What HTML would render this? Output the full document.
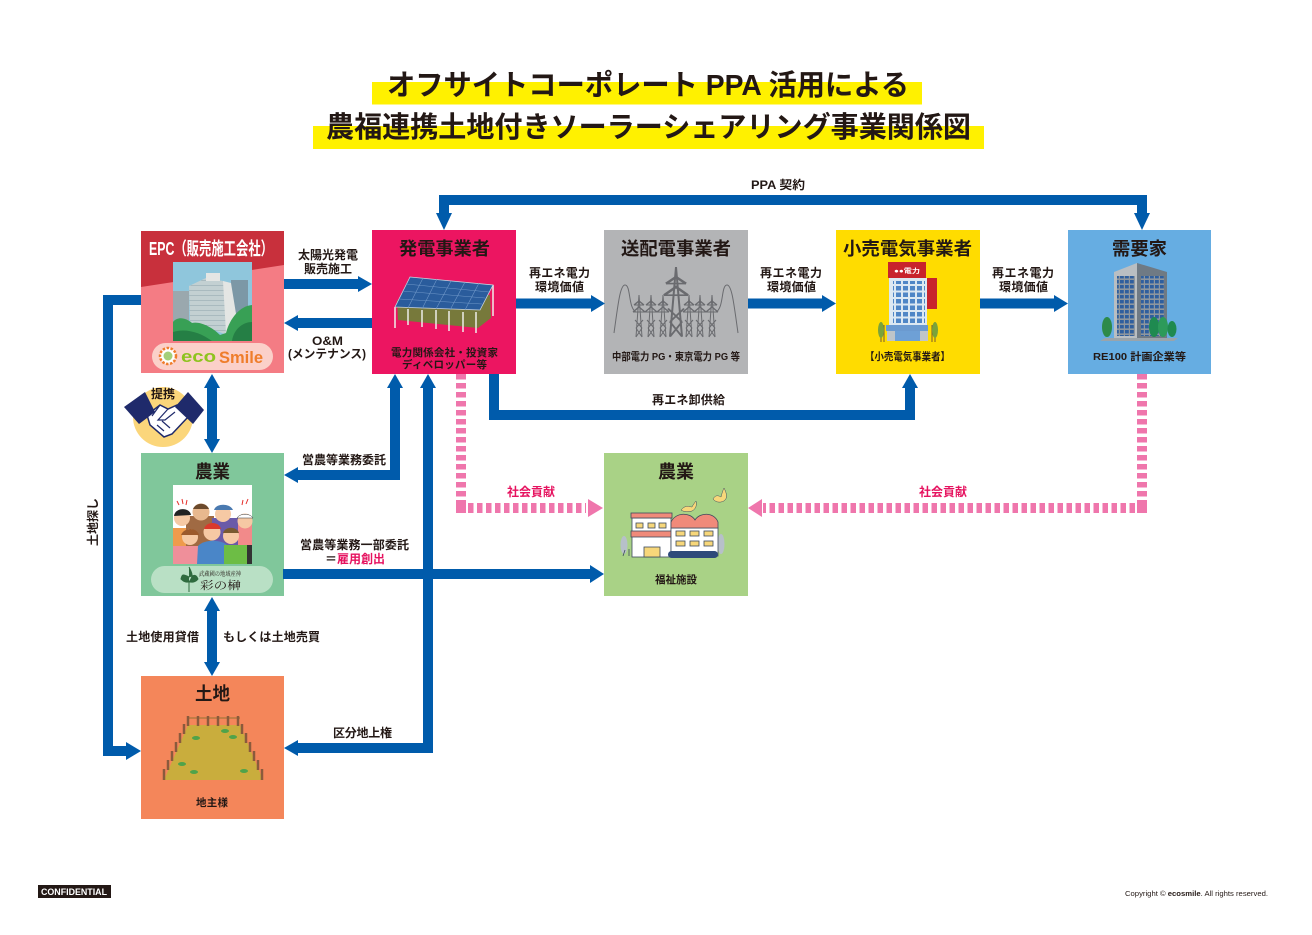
<!DOCTYPE html>
<html lang="ja"><head><meta charset="utf-8"><title>オフサイトコーポレートPPA活用による農福連携土地付きソーラーシェアリング事業関係図</title>
<style>
html,body{margin:0;padding:0;background:#fff;width:1312px;height:935px;overflow:hidden}
svg{display:block}
text{font-family:"Liberation Sans","Noto Sans CJK JP",sans-serif;font-weight:700;fill:#231815}
.t{font-size:18px}.l{font-size:12px}.s{font-size:10.5px}
.p{fill:#e6125f}
.a{fill:none;stroke:#005bab;stroke-width:10}
.h{fill:#005bab}
.pk{fill:none;stroke:#ef76ac;stroke-width:10;stroke-dasharray:5.5 3.5}
</style></head><body>
<svg xmlns="http://www.w3.org/2000/svg" width="1312" height="935" viewBox="0 0 1312 935">
<defs>
<g id="tw" fill="none" stroke="#6a6b6f" stroke-width="1">
<path d="M5 0L2 42M5 0L8 42M0 10H10M-1 17H11M1 25L8 33M9 25L2 33M2 33L8 42M8 33L2 42"/>
<path d="M0 10L5 6L10 10M-1 17L5 12L11 17" stroke-width="1.4"/>
</g>
<pattern id="wn" width="7" height="6.5" patternUnits="userSpaceOnUse"><rect width="5" height="4.5" fill="#4f86c6"/></pattern>
<pattern id="wc" width="5" height="5" patternUnits="userSpaceOnUse"><rect width="5" height="5" fill="#8d969e"/><rect width="3.800" height="3.400" fill="#2f5f9e"/></pattern>
<pattern id="ph" width="5" height="5" patternUnits="userSpaceOnUse"><rect width="5" height="5" fill="#c3d0d2"/><path d="M0 0H5" stroke="#8fa4ac" stroke-width="1"/></pattern>
</defs>

<!-- title -->
<rect x="372" y="82" width="550" height="22.5" fill="#fff100"/>
<rect x="313" y="126" width="671" height="23" fill="#fff100"/>
<text x="387" y="95" font-size="29" textLength="522" lengthAdjust="spacingAndGlyphs">オフサイトコーポレート PPA 活用による</text>
<text x="326" y="137" font-size="29" textLength="645" lengthAdjust="spacingAndGlyphs">農福連携土地付きソーラーシェアリング事業関係図</text>

<!-- boxes -->
<rect x="141" y="231" width="143" height="142" fill="#f47c84"/>
<polygon points="141,231 284,231 284,265 141,287" fill="#c8303c"/>
<rect x="372" y="230" width="144" height="144" fill="#ec1561"/>
<rect x="604" y="230" width="144" height="144" fill="#b3b4b6"/>
<rect x="836" y="230" width="144" height="144" fill="#ffdc00"/>
<rect x="1068" y="230" width="143" height="144" fill="#66ade2"/>
<rect x="141" y="453" width="143" height="143" fill="#80c79b"/>
<rect x="604" y="453" width="144" height="143" fill="#a9d286"/>
<rect x="141" y="676" width="143" height="143" fill="#f4865a"/>

<!-- connectors -->
<path class="a" d="M284 284H360"/><polygon class="h" points="358,276 372,284 358,292"/>
<path class="a" d="M372 323H296"/><polygon class="h" points="298,315 284,323 298,331"/>
<path class="a" d="M516 303.500H593"/><polygon class="h" points="591,295 605,303.500 591,312"/>
<path class="a" d="M748 303.500H824"/><polygon class="h" points="822,295 836,303.500 822,312"/>
<path class="a" d="M980 303.500H1056"/><polygon class="h" points="1054,295 1068,303.500 1054,312"/>
<path class="a" d="M444 215V200H1142V215"/>
<polygon class="h" points="436,213 452,213 444,230"/><polygon class="h" points="1134,213 1150,213 1142,230"/>
<path class="a" d="M141 300H108V751H128"/><polygon class="h" points="126,742 141,751 126,760"/>
<path class="a" d="M212 386V441"/>
<polygon class="h" points="212,374 220,388 204,388"/><polygon class="h" points="212,453 220,439 204,439"/>
<path class="a" d="M395 386V475H296"/>
<polygon class="h" points="395,374 403,388 387,388"/><polygon class="h" points="284,475 298,467 298,483"/>
<path class="a" d="M428 386V748H296"/>
<polygon class="h" points="428,374 436,388 420,388"/><polygon class="h" points="284,748 298,740 298,756"/>
<path class="a" d="M283 574H592"/><polygon class="h" points="590,565 604,574 590,583"/>
<path class="a" d="M212 609V664"/>
<polygon class="h" points="212,597 220,611 204,611"/><polygon class="h" points="212,676 220,662 204,662"/>
<path class="a" d="M494 374V415H910V386"/><polygon class="h" points="910,374 918,388 902,388"/>
<path class="pk" d="M461 374V503"/><path class="pk" d="M468 508H586"/><rect x="456" y="503" width="10" height="10" fill="#ef76ac"/><polygon points="588,499 603,508 588,517" fill="#ef76ac"/>
<path class="pk" d="M1142 374V503"/><path class="pk" d="M1135 508H763"/><rect x="1137" y="503" width="10" height="10" fill="#ef76ac"/><polygon points="762,499 748,508 762,517" fill="#ef76ac"/>

<!-- EPC image -->
<rect x="173" y="262" width="79" height="79" fill="#8fc6dc"/>
<rect x="173" y="291" width="16" height="32" fill="#9aa8ae"/>
<rect x="231" y="280" width="17" height="34" fill="#7c98a6"/>
<polygon points="189,286 208,277 230,283 238,326 225,334 190,322" fill="url(#ph)"/>
<polygon points="223,281 231,283 238,326 226,333" fill="#e4e6e4"/>
<rect x="206" y="273" width="14" height="8" fill="#e4e6e4"/>
<path d="M173 341V322C178 316 186 318 192 323C200 321 212 327 220 335L226 333C230 318 240 306 252 305V341Z" fill="#38a055"/>
<path d="M173 332C185 328 200 332 212 341H173ZM232 341C234 328 244 322 252 322V341Z" fill="#257f45"/>
<rect x="152" y="343" width="121" height="27" rx="13.500" fill="#fbd0c9"/>
<circle cx="168" cy="356" r="8" fill="#fff" stroke="#ef7d2b" stroke-width="2.500" stroke-dasharray="2.500 1.500"/>
<circle cx="168" cy="356" r="4.500" fill="#a4cf7a"/>
<text x="181" y="362" font-size="17" textLength="35" lengthAdjust="spacingAndGlyphs" style="fill:#8fc31f">eco</text>
<text x="219" y="363" font-size="17" textLength="44" lengthAdjust="spacingAndGlyphs" style="fill:#ef7d2b">Smile</text>

<!-- solar -->
<polygon points="397,300 490,295 491,318 478,328 398,320" fill="#77793b"/>
<g stroke="#eeeeea" stroke-width="1.500">
<path d="M395 307V328M408 309V325M422 310V327M436 310V329M449 311V331M463 312V332M476 312V333M493 285V316"/>
</g>
<polygon points="410,277 493,285 480,310 395,307" fill="#2a5c9c" stroke="#c8d4e0" stroke-width=".8"/>
<path d="M406 284L489 292M402 291L485 298M399 299L482 304M423 278L408 308M437 279L422 309M451 281L436 309M465 282L450 310M479 283L465 310" stroke="#6f97c8" stroke-width=".6"/>
<!-- towers -->
<path d="M614 333C618 305 620 285 625 285C631 285 628 308 636 312M738 333C734 305 732 285 727 285C721 285 724 308 716 312" fill="none" stroke="#6a6b6f" stroke-width="1"/>
<use href="#tw" x="634" y="295"/><use href="#tw" x="646" y="295"/><use href="#tw" x="658" y="295"/>
<use href="#tw" x="684" y="295"/><use href="#tw" x="695" y="295"/><use href="#tw" x="707" y="295"/>
<g transform="translate(666 267) scale(2 1.660)"><use href="#tw"/></g>
<!-- retail -->
<rect x="889" y="278" width="38" height="48" fill="#dce8f2"/>
<rect x="893" y="281" width="32" height="44" fill="url(#wn)"/>
<rect x="888" y="262" width="38" height="16" fill="#c8232c"/>
<text x="894" y="273" font-size="6.500" textLength="26" lengthAdjust="spacingAndGlyphs" style="fill:#fff">●●電力</text>
<rect x="927" y="278" width="10" height="31" fill="#c8232c"/>
<rect x="886" y="325" width="42" height="6" fill="#6b9ad0"/>
<rect x="887" y="331" width="41" height="10" fill="#bfc5c9"/>
<rect x="895" y="331" width="25" height="10" fill="#6ea0d6"/>
<path d="M881 342V322M884 342V325M932 342V325M935 342V322" stroke="#7a5a30" stroke-width="1"/>
<ellipse cx="881" cy="330" rx="3" ry="8" fill="#7aa33a"/><ellipse cx="935" cy="330" rx="3" ry="8" fill="#7aa33a"/>
<!-- customer -->
<polygon points="1114,272 1137,263 1137,338 1114,338" fill="#b9bec2"/>
<polygon points="1137,263 1167,272 1167,338 1137,338" fill="#6f7a84"/>
<rect x="1117" y="276" width="18" height="60" fill="url(#wc)"/>
<rect x="1141" y="276" width="23" height="60" fill="url(#wc)"/>
<polygon points="1105,338 1178,338 1174,341 1100,341" fill="#9aa4ab"/>
<ellipse cx="1107" cy="327" rx="5" ry="10" fill="#2d8a4a"/>
<ellipse cx="1154" cy="327" rx="5" ry="10" fill="#1f8a50"/><ellipse cx="1163" cy="327" rx="5" ry="10" fill="#2d9a5a"/><ellipse cx="1172" cy="329" rx="4.500" ry="8" fill="#1f8a50"/>
<!-- people -->
<rect x="173" y="485" width="79" height="79" fill="#fff"/>
<g>
<path d="M173 528H193V564H173Z" fill="#ee9b4c"/>
<path d="M186 516H214V550H186Z" fill="#a06a43"/>
<path d="M212 518H242V550H212Z" fill="#6a5aa8"/>
<path d="M238 524H252V562H238Z" fill="#f28a8a"/>
<path d="M173 546H198V564H173Z" fill="#ef8f9a"/>
<path d="M198 546C204 539 222 539 228 546L230 564H197Z" fill="#4a86c8"/>
<path d="M224 545H248V564H224Z" fill="#6dbd45"/>
<path d="M247 545H252V564H247Z" fill="#333"/>
<circle cx="182" cy="518" r="8" fill="#f6c9a4"/><path d="M174 516C175 507 190 507 191 515Z" fill="#222"/>
<circle cx="201" cy="512" r="8.500" fill="#e8b88e"/><path d="M193 509C196 502 206 502 209 509Z" fill="#6b4a2c"/>
<circle cx="223" cy="514" r="8" fill="#f6c9a4"/><path d="M214 510C216 503 230 503 233 510Z" fill="#4a7ab0"/>
<circle cx="245" cy="521" r="7.500" fill="#f6c9a4"/><path d="M237 518C240 513 250 513 253 518Z" fill="#fff" stroke="#333" stroke-width=".5"/>
<circle cx="190" cy="537" r="8" fill="#f6c9a4"/><path d="M181 535C184 527 197 527 199 535Z" fill="#9c5a2c"/>
<circle cx="212" cy="532" r="8.500" fill="#f6c9a4"/><path d="M204 529C206 521 219 521 221 529Z" fill="#d93a2c"/>
<circle cx="231" cy="536" r="8" fill="#f6c9a4"/><path d="M223 533C225 526 237 526 239 533Z" fill="#7a5a30"/>
<path d="M177 501L179 505M182 499L183 504M187 500L186 505M243 500L242 505M248 499L246 504" stroke="#e6302c" stroke-width="1"/>
</g>
<rect x="151" y="566" width="122" height="27" rx="13.500" fill="#b9e0c5"/>
<path d="M189 567C192 573 194 576 189 582V592M189 577C183 574 182 574 181 579C185 583 187 582 189 582C191 582 195 583 198 579C196 574 194 575 189 577Z" fill="#2f6b3f" stroke="#2f6b3f" stroke-width="1"/>
<text x="199" y="576" font-size="6" textLength="42" lengthAdjust="spacingAndGlyphs" style="font-family:'Noto Serif CJK SC',serif;font-weight:400">武蔵國の地域産神</text>
<text x="200" y="589" font-size="11" textLength="41" lengthAdjust="spacingAndGlyphs" style="font-family:'Noto Serif CJK SC',serif;font-weight:400">彩の榊</text>
<!-- field -->
<polygon points="188,725 240,725 263,780 164,780" fill="#c9ad3d"/>
<path d="M188 718H240" stroke="#b4793f" stroke-width="1.500"/>
<g stroke="#8a5a3c" stroke-width="2.500">
<path d="M188 716V726M198 716V726M208 716V726M218 716V726M228 716V726M238 716V726"/>
<path d="M184 724V734M180 733V743M176 742V752M172 751V761M168 760V770M164 769V780"/>
<path d="M242 724V734M246 733V743M250 742V752M254 751V761M258 760V770M262 769V780"/>
</g>
<g fill="#4fa34a">
<ellipse cx="196" cy="738" rx="4" ry="2"/><ellipse cx="225" cy="731" rx="4" ry="2"/><ellipse cx="233" cy="737" rx="4" ry="2"/>
<ellipse cx="182" cy="764" rx="4" ry="2"/><ellipse cx="194" cy="772" rx="4" ry="2"/><ellipse cx="244" cy="771" rx="4" ry="2"/>
</g>
<!-- welfare -->
<g stroke="#3c4a5c" stroke-width=".8">
<ellipse cx="624" cy="545" rx="3.500" ry="9" fill="#b7c0c9" stroke="none"/><ellipse cx="721" cy="544" rx="3.500" ry="10" fill="#b7c0c9" stroke="none"/>
<path d="M625 550L623 556M629 549V556" fill="none"/>
<rect x="632" y="518" width="39" height="39" fill="#fff"/>
<rect x="631" y="513" width="41" height="5" fill="#f08a7a"/>
<rect x="631" y="531" width="41" height="6" fill="#f08a7a"/>
<rect x="636" y="523" width="7" height="5" fill="#f7d77a"/><rect x="648" y="523" width="7" height="5" fill="#f7d77a"/><rect x="659" y="523" width="7" height="5" fill="#f7d77a"/>
<rect x="644" y="547" width="16" height="10" fill="#f7d77a"/>
<rect x="671" y="528" width="47" height="28" fill="#fff"/>
<path d="M671 528V522C676 512 690 512 695 520C700 512 714 512 718 522V528Z" fill="#f08a7a"/>
<rect x="676" y="531" width="9" height="5" fill="#f7d77a"/><rect x="690" y="531" width="9" height="5" fill="#f7d77a"/><rect x="704" y="531" width="9" height="5" fill="#f7d77a"/>
<rect x="676" y="541" width="9" height="5" fill="#f7d77a"/><rect x="690" y="541" width="9" height="5" fill="#f7d77a"/><rect x="704" y="541" width="9" height="5" fill="#f7d77a"/>
</g>
<rect x="668" y="551" width="50" height="7" rx="3.500" fill="#2e4a7a"/>
<path d="M681 510C686 504 690 507 692 507C693 505 695 502 696 501C697 505 696 509 692 511C688 512 684 512 681 510Z" fill="#f7d77a" stroke="#3c4a5c" stroke-width=".5"/>
<path d="M713 499C716 494 719 496 721 497C722 493 723 490 724 488C726 492 728 497 725 500C722 503 716 503 713 499Z" fill="#f7d77a" stroke="#3c4a5c" stroke-width=".5"/>
<!-- handshake -->
<circle cx="163" cy="417" r="30" fill="#fbd67b"/>
<path d="M147 415L160 405L168 409L177 405L188 417L172 434L164 437L150 425Z" fill="#fff" stroke="#1f2a6b" stroke-width="1.500"/>
<path d="M160 405L152 416M168 409L158 420L165 420L175 412M157 425L164 431M162 421L170 428" fill="none" stroke="#1f2a6b" stroke-width="1.200"/>
<polygon points="124,407 145,392 155,412 139,424" fill="#1f2a6b"/>
<polygon points="188,392 204,410 193,424 175,407" fill="#1f2a6b"/>

<!-- box titles -->
<text x="149" y="255" class="t" textLength="124" lengthAdjust="spacingAndGlyphs" style="fill:#fff">EPC（販売施工会社）</text>
<text x="399" y="255" class="t" textLength="91" lengthAdjust="spacingAndGlyphs">発電事業者</text>
<text x="621" y="255" class="t" textLength="110" lengthAdjust="spacingAndGlyphs">送配電事業者</text>
<text x="843" y="255" class="t" textLength="129" lengthAdjust="spacingAndGlyphs">小売電気事業者</text>
<text x="1112" y="255" class="t" textLength="55" lengthAdjust="spacingAndGlyphs">需要家</text>
<text x="195" y="478" class="t" textLength="35" lengthAdjust="spacingAndGlyphs">農業</text>
<text x="658" y="478" class="t" textLength="36" lengthAdjust="spacingAndGlyphs">農業</text>
<text x="195" y="700" class="t" textLength="35" lengthAdjust="spacingAndGlyphs">土地</text>

<!-- small box labels -->
<text x="391" y="356" class="s" textLength="107" lengthAdjust="spacing">電力関係会社・投資家</text>
<text x="402" y="368" class="s" textLength="85" lengthAdjust="spacing">ディベロッパー等</text>
<text x="612" y="360" class="s" textLength="128" lengthAdjust="spacingAndGlyphs">中部電力 PG・東京電力 PG 等</text>
<text x="865" y="360" class="s" textLength="85" lengthAdjust="spacingAndGlyphs">【小売電気事業者】</text>
<text x="1093" y="360" class="s" textLength="93" lengthAdjust="spacingAndGlyphs">RE100 計画企業等</text>
<text x="655" y="583" class="s" textLength="42" lengthAdjust="spacing">福祉施設</text>
<text x="196" y="806" class="s" textLength="32" lengthAdjust="spacing">地主様</text>

<!-- connector labels -->
<text x="751" y="189" class="l" textLength="54" lengthAdjust="spacingAndGlyphs">PPA 契約</text>
<text x="298" y="259" class="l" textLength="60">太陽光発電</text>
<text x="304" y="273" class="l" textLength="48">販売施工</text>
<text x="312" y="345" class="l" textLength="31" lengthAdjust="spacingAndGlyphs">O&amp;M</text>
<text x="288" y="358" class="l" textLength="78" lengthAdjust="spacingAndGlyphs">(メンテナンス)</text>
<text x="529" y="277" class="l" textLength="61">再エネ電力</text>
<text x="535" y="291" class="l" textLength="49">環境価値</text>
<text x="760" y="277" class="l" textLength="62">再エネ電力</text>
<text x="767" y="291" class="l" textLength="49">環境価値</text>
<text x="992" y="277" class="l" textLength="62">再エネ電力</text>
<text x="999" y="291" class="l" textLength="49">環境価値</text>
<text x="652" y="404" class="l" textLength="73">再エネ卸供給</text>
<text x="302" y="464" class="l" textLength="84">営農等業務委託</text>
<text x="300" y="549" class="l" textLength="109">営農等業務一部委託</text>
<text x="325" y="563" class="l">＝</text>
<text x="337" y="563" class="l p" textLength="48">雇用創出</text>
<text x="126" y="641" class="l" textLength="73">土地使用貸借</text>
<text x="223" y="641" class="l" textLength="97">もしくは土地売買</text>
<text x="333" y="737" class="l" textLength="59">区分地上権</text>
<text transform="translate(97 546) rotate(-90)" class="l" textLength="48">土地探し</text>
<text x="507" y="496" class="l p" textLength="48">社会貢献</text>
<text x="919" y="496" class="l p" textLength="48">社会貢献</text>
<text x="151" y="398" class="l" textLength="24">提携</text>

<!-- footer -->
<rect x="38" y="885" width="73" height="13" fill="#231815"/>
<text x="41" y="895" font-size="9.500" textLength="66" lengthAdjust="spacingAndGlyphs" style="fill:#fff;font-weight:700">CONFIDENTIAL</text>
<text x="1125" y="896" font-size="7.500" textLength="143" lengthAdjust="spacingAndGlyphs" style="font-weight:400">Copyright © <tspan font-weight="700">ecosmile</tspan>. All rights reserved.</text>
</svg>
</body></html>
